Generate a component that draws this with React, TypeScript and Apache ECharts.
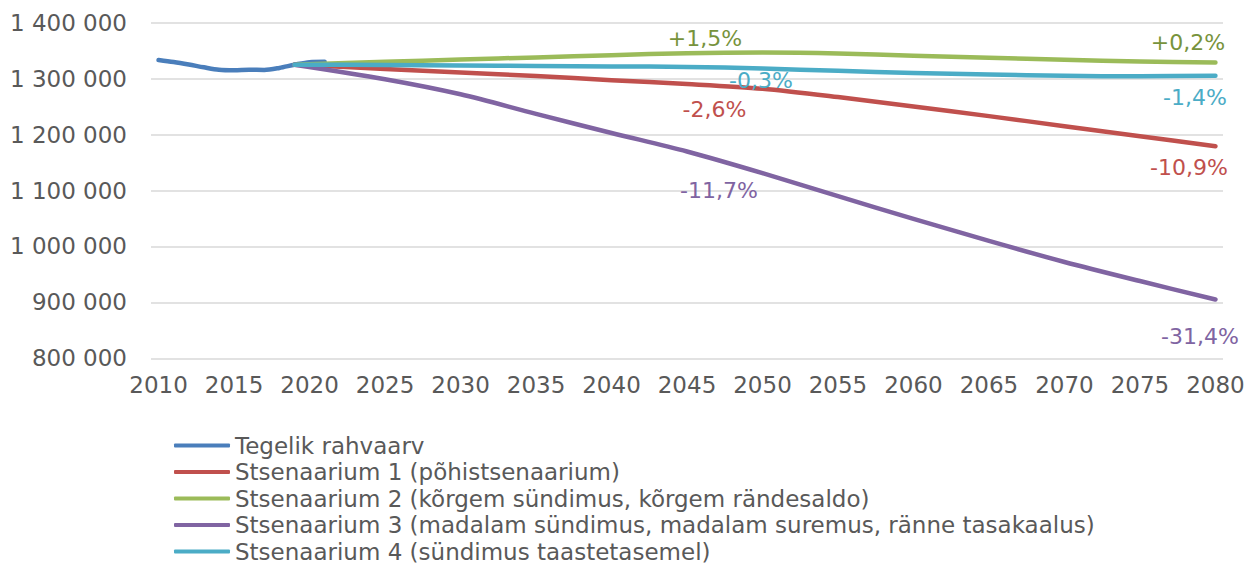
import React, { useEffect, useRef } from "react";
import * as echarts from "echarts";

// Categories (years on the x axis)
const YEARS: string[] = [];
for (let y = 2010; y <= 2080; y++) YEARS.push(String(y));

const SERIES_NAMES = [
  "Tegelik rahvaarv",
  "Stsenaarium 1 (põhistsenaarium)",
  "Stsenaarium 2 (kõrgem sündimus, kõrgem rändesaldo)",
  "Stsenaarium 3 (madalam sündimus, madalam suremus, ränne tasakaalus)",
  "Stsenaarium 4 (sündimus taastetasemel)",
];
const COLORS = ["#4A7EBB", "#C0504D", "#9BBB59", "#8064A2", "#4BACC6"];
const LABEL_COLORS = ["#4A7EBB", "#C0504D", "#77933C", "#8064A2", "#4BACC6"];

// Actual population
const ACTUAL_YEARS = [2010, 2011, 2012, 2013, 2014, 2015, 2016, 2017, 2018, 2019, 2020, 2021];
const ACTUAL_VALUES = [1333300, 1329700, 1325200, 1320200, 1315800, 1314900, 1315900, 1315600, 1319100, 1324800, 1329500, 1330100];

// Scenario projections (read at key years)
const SCEN_YEARS = [2019, 2025, 2030, 2035, 2040, 2045, 2050, 2055, 2060, 2065, 2070, 2075, 2080];
const SCEN1 = [1324800, 1317400, 1310900, 1304800, 1297100, 1290400, 1281900, 1267000, 1250000, 1233000, 1215000, 1197000, 1179200];
const SCEN2 = [1324800, 1330000, 1334300, 1337900, 1342000, 1345500, 1346500, 1345000, 1341000, 1337200, 1333600, 1330700, 1328900];
const SCEN3 = [1324800, 1298900, 1272000, 1237000, 1202900, 1169700, 1131000, 1089800, 1049400, 1009900, 972200, 938100, 905200];
const SCEN4 = [1324800, 1324500, 1323500, 1322600, 1321800, 1321000, 1318100, 1314000, 1310200, 1307400, 1305000, 1304300, 1305300];

// Change labels at 2045 and 2080
const LABEL_YEARS = [2045, 2080];
const SCEN1_LABELS = ["-2,6%", "-10,9%"];
const SCEN2_LABELS = ["+1,5%", "+0,2%"];
const SCEN3_LABELS = ["-11,7%", "-31,4%"];
const SCEN4_LABELS = ["-0,3%", "-1,4%"];

const Y_MIN = 800000;
const Y_MAX = 1400000;
const Y_STEP = 100000;

const FONT = "'DejaVu Sans', sans-serif";

export default function App() {
  const ref = useRef<HTMLDivElement>(null);

  useEffect(() => {
    document.body.style.margin = "0";
    if (!ref.current) return;
    const chart = echarts.init(ref.current, undefined, { renderer: "svg" });

    const idx = (y: number) => YEARS.indexOf(String(y));

    const labelOffsets: Record<number, [number, number][]> = {
      1: [[27.5, 36.5], [-26.5, 32]],
      2: [[18, -4], [-27.5, -9]],
      3: [[32, 50], [-15.5, 48]],
      4: [[74, 25], [-20.5, 33]],
    };

    const buildScen = (vals: number[], labels: string[], si: number) =>
      SCEN_YEARS.map((yr, i) => {
        const li = LABEL_YEARS.indexOf(yr);
        const item: any = { value: [idx(yr), vals[i]] };
        if (li >= 0) {
          item.label = {
            show: true,
            formatter: labels[li],
            position: "top",
            distance: 0,
            offset: labelOffsets[si][li],
            color: LABEL_COLORS[si],
            fontSize: 22,
            lineHeight: 22,
            fontFamily: FONT,
          };
        }
        return item;
      });

    const lineSeries = (name: string, data: any[], color: string) => ({
      name,
      type: "line",
      data,
      smooth: 0.3,
      showSymbol: true,
      showAllSymbol: true,
      symbol: "circle",
      symbolSize: 0,
      itemStyle: { color },
      lineStyle: { color, width: 4.5, cap: "round", join: "round" },
      label: { show: false },
      emphasis: { disabled: true },
    });

    const actualData = ACTUAL_YEARS.map((yr, i) => [idx(yr), ACTUAL_VALUES[i]]);

    const option: any = {
      animation: false,
      backgroundColor: "#ffffff",
      textStyle: { fontFamily: FONT },
      grid: { left: 151, right: 29, top: 22.7, bottom: 207.7, containLabel: false },
      xAxis: {
        type: "category",
        data: YEARS,
        boundaryGap: true,
        axisLine: { show: false },
        axisTick: { show: false },
        splitLine: { show: false },
        axisLabel: {
          interval: 4,
          color: "#595959",
          fontSize: 23,
          fontFamily: FONT,
          margin: 15,
        },
      },
      yAxis: {
        type: "value",
        min: Y_MIN,
        max: Y_MAX,
        interval: Y_STEP,
        axisLine: { show: false },
        axisTick: { show: false },
        splitLine: { show: true, lineStyle: { color: "#D9D9D9", width: 1.5 } },
        axisLabel: {
          color: "#595959",
          fontSize: 23,
          fontFamily: FONT,
          margin: 24,
          formatter: (v: number) => String(v).replace(/\B(?=(\d{3})+(?!\d))/g, " "),
        },
      },
      legend: {
        orient: "vertical",
        left: 174,
        top: 434,
        height: 140,
        padding: 0,
        itemWidth: 56,
        itemHeight: 4,
        itemGap: 3.5,
        icon: "roundRect",
        textStyle: { color: "#595959", fontSize: 23, lineHeight: 23, fontFamily: FONT },
        data: SERIES_NAMES,
        selectedMode: false,
      },
      series: [
        lineSeries(SERIES_NAMES[0], actualData, COLORS[0]),
        lineSeries(SERIES_NAMES[1], buildScen(SCEN1, SCEN1_LABELS, 1), COLORS[1]),
        lineSeries(SERIES_NAMES[2], buildScen(SCEN2, SCEN2_LABELS, 2), COLORS[2]),
        lineSeries(SERIES_NAMES[3], buildScen(SCEN3, SCEN3_LABELS, 3), COLORS[3]),
        lineSeries(SERIES_NAMES[4], buildScen(SCEN4, SCEN4_LABELS, 4), COLORS[4]),
      ],
    };

    chart.setOption(option);
    return () => chart.dispose();
  }, []);

  return <div ref={ref} style={{ width: 1252, height: 566 }} />;
}
